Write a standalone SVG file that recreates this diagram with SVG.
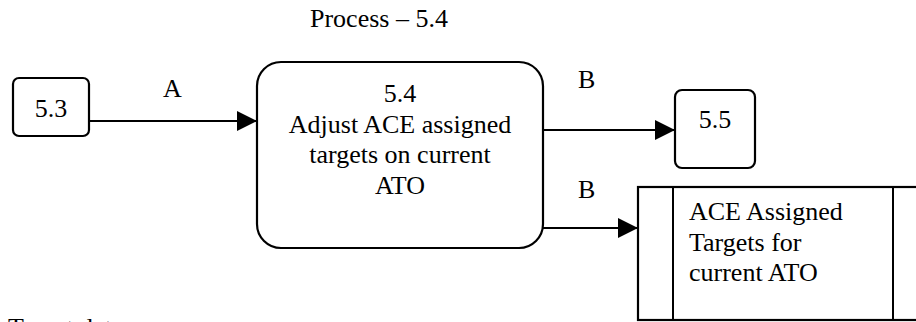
<svg xmlns="http://www.w3.org/2000/svg" width="916" height="322" viewBox="0 0 916 322">
<defs>
<style>
.box{fill:#fff;stroke:#000;stroke-width:2.2}
.ln{fill:none;stroke:#000;stroke-width:2}
.t{font-family:"Liberation Serif","Times New Roman",serif;font-size:26px;fill:#000}
.c{text-anchor:middle}
</style>
<marker id="ah" markerWidth="20" markerHeight="20" viewBox="0 0 20 20" refX="20" refY="10" orient="auto" markerUnits="userSpaceOnUse">
<path d="M0,0 L20,10 L0,20 Z" fill="#000"/>
</marker>
</defs>
<rect width="916" height="322" fill="#fff"/>
<text class="t" x="310" y="27">Process – 5.4</text>
<g id="node-5-3">
<rect class="box" x="13" y="78" width="76" height="58" rx="6"/>
<text class="t c" x="51" y="117">5.3</text>
</g>
<g id="node-5-4">
<rect class="box" x="257" y="62" width="286" height="186" rx="24"/>
<text class="t c" x="400" y="102">5.4</text>
<text class="t c" x="400" y="133">Adjust ACE assigned</text>
<text class="t c" x="400" y="163">targets on current</text>
<text class="t c" x="400" y="194">ATO</text>
</g>
<g id="node-5-5">
<rect class="box" x="675" y="90" width="80" height="78" rx="7"/>
<text class="t c" x="715" y="128">5.5</text>
</g>
<g id="store">
<rect class="box" x="638" y="187" width="300" height="133"/>
<line class="ln" x1="673" y1="187" x2="673" y2="320"/>
<line class="ln" x1="893" y1="187" x2="893" y2="320"/>
<text class="t" x="689" y="220">ACE Assigned</text>
<text class="t" x="689" y="251">Targets for</text>
<text class="t" x="689" y="281">current ATO</text>
</g>
<g id="connectors">
<line class="ln" x1="89" y1="121" x2="257" y2="121" marker-end="url(#ah)"/>
<text class="t" x="163" y="97">A</text>
<line class="ln" x1="543" y1="130" x2="675" y2="130" marker-end="url(#ah)"/>
<text class="t" x="578" y="88">B</text>
<line class="ln" x1="543" y1="228" x2="638" y2="228" marker-end="url(#ah)"/>
<text class="t" x="578" y="198">B</text>
</g>
<text class="t" x="8" y="336">Target data</text>
</svg>
